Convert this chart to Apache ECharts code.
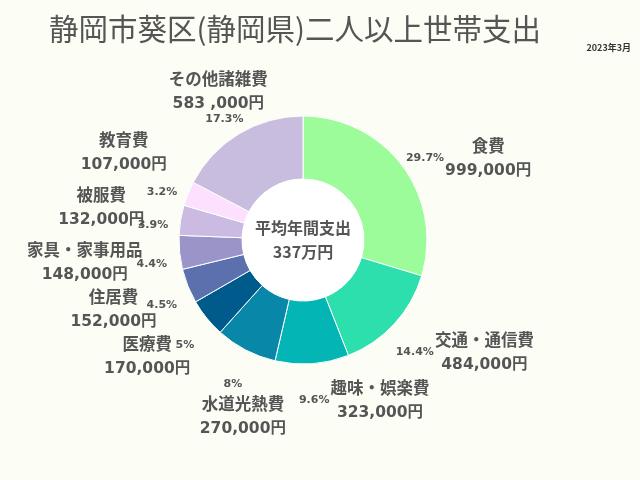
<!DOCTYPE html>
<html>
<head>
<meta charset="utf-8">
<script src="https://cdn.jsdelivr.net/npm/echarts@6/dist/echarts.min.js"></script>
<style>
html,body{margin:0;padding:0;background:#fcfdf5;}
#chart{width:640px;height:480px;}
</style>
</head>
<body>
<div id="chart"></div>
<script>
// ---- data ----
const chartTitle = '静岡市葵区(静岡県)二人以上世帯支出';
const periodLabel = '2023年3月';
const categories = ['食費','交通・通信費','趣味・娯楽費','水道光熱費','医療費','住居費','家具・家事用品','被服費','教育費','その他諸雑費'];
const values = [999000,484000,323000,270000,170000,152000,148000,132000,107000,583000];
const valueLabels = ['999,000円','484,000円','323,000円','270,000円','170,000円','152,000円','148,000円','132,000円','107,000円','583 ,000円'];
const centerTitle = '平均年間支出';
const centerValue = '337万円';
const colors = ['#9dfc9a','#2ddfad','#04b5b6','#0887a8','#005b8d','#5b70ad','#9a94c9','#cbbbe3','#fde0fd','#c9bddf'];

// ---- layout / style ----
const CX = 303, CY = 240, R0 = 61, R1 = 124;
const PCT_R = 152, PCT_DY = 9, PCT_H = 12;
const LEFT_R = 162, GAP_DOWN = 47, GAP_UP = 55;
const pctFont = 'bold 11px "DejaVu Sans"';
const textColor = '#555';

const total = values.reduce((a, b) => a + b, 0);
function pctText(v) {
  let s = (v / total * 100).toFixed(1);
  if (s.endsWith('.0')) s = s.slice(0, -2);
  return s + '%';
}
const ctx = document.createElement('canvas').getContext('2d');
ctx.font = pctFont;
let cum = 0;
const geo = values.map(v => {
  const a = (cum + v / 2) / total * Math.PI * 2;
  cum += v;
  const sx = Math.sin(a), cy = Math.cos(a);
  const t = pctText(v);
  return {
    sx: sx, cy: cy, text: t,
    px: CX + PCT_R * sx,
    py: CY - PCT_R * cy + PCT_DY,
    pw: ctx.measureText(t).width
  };
});

// left-side side-placed labels: spread outward from the most horizontal one
const leftY = {};
(function () {
  const idx = [];
  geo.forEach((g, i) => { if (g.sx < 0 && Math.abs(g.cy) <= 0.85) idx.push(i); });
  if (!idx.length) return;
  let k = 0;
  idx.forEach((i, j) => { if (Math.abs(geo[i].cy) < Math.abs(geo[idx[k]].cy)) k = j; });
  leftY[idx[k]] = geo[idx[k]].py - 2;
  for (let j = k - 1; j >= 0; j--) {       // lower labels (earlier in clockwise order)
    leftY[idx[j]] = Math.max(geo[idx[j]].py - 2, leftY[idx[j + 1]] + GAP_DOWN);
  }
  for (let j = k + 1; j < idx.length; j++) { // upper labels
    leftY[idx[j]] = Math.min(geo[idx[j]].py - 2, leftY[idx[j - 1]] - GAP_UP);
  }
})();

const pieData = categories.map((c, i) => ({ name: c, value: values[i] }));

const chart = echarts.init(document.getElementById('chart'));
chart.setOption({
  backgroundColor: '#fcfdf5',
  animation: false,
  title: [
    { text: chartTitle, left: 44, top: 9,
      textStyle: { fontFamily: '"Noto Sans CJK JP"', fontSize: 29.5, fontWeight: 'normal', color: textColor } },
    { text: periodLabel, right: 4, top: 38,
      textStyle: { fontFamily: '"Noto Sans CJK JP"', fontSize: 9, fontWeight: 'bold', color: '#333' } }
  ],
  color: colors,
  series: [
    {
      type: 'pie', name: 'main', center: [CX, CY], radius: [R0, R1],
      startAngle: 90, clockwise: true, avoidLabelOverlap: false, silent: true,
      itemStyle: { borderColor: '#ffffff', borderWidth: 1 },
      data: pieData,
      label: {
        show: true, position: 'outside',
        formatter: p => '{n|' + p.name + '}\n{v|' + valueLabels[p.dataIndex] + '}',
        rich: {
          n: { fontFamily: '"Noto Sans CJK JP"', fontSize: 16.5, fontWeight: 'bold', color: textColor, lineHeight: 25 },
          v: { fontFamily: '"DejaVu Sans","Noto Sans CJK JP"', fontSize: 15.5, fontWeight: 'bold', color: textColor, lineHeight: 25 }
        }
      },
      labelLine: { show: false },
      labelLayout: function (p) {
        const i = p.dataIndex, g = geo[i];
        const w = p.labelRect.width, h = p.labelRect.height;
        const pr = g.px + g.pw / 2;
        const pt = g.py - PCT_H / 2, pb = g.py + PCT_H / 2;
        let x, y;
        if (g.sx >= 0) { x = pr + 1 + w / 2; y = g.py; }
        else if (Math.abs(g.cy) > 0.85) {
          x = g.px + (g.cy < 0 ? 10 : -6);
          y = g.cy < 0 ? pb + 6 + h / 2 : pt - 1 - h / 2;
        }
        else {
          y = leftY[i];
          const dy = y - CY;
          const right = CX - Math.sqrt(Math.max(LEFT_R * LEFT_R - dy * dy, 0));
          x = right - w / 2;
        }
        return { x: x, y: y, align: 'center', verticalAlign: 'middle' };
      }
    },
    {
      type: 'pie', name: 'pct', center: [CX, CY], radius: [R0, R1],
      startAngle: 90, clockwise: true, avoidLabelOverlap: false, silent: true,
      itemStyle: { color: 'rgba(0,0,0,0)' },
      data: pieData,
      label: {
        show: true, position: 'outside',
        formatter: p => geo[p.dataIndex].text,
        fontFamily: '"DejaVu Sans"', fontSize: 11, fontWeight: 'bold', color: textColor
      },
      labelLine: { show: false },
      labelLayout: function (p) {
        const g = geo[p.dataIndex];
        return { x: g.px, y: g.py, align: 'center', verticalAlign: 'middle' };
      }
    },
    {
      type: 'pie', name: 'center', center: [CX, CY], radius: [0, R0],
      silent: true, itemStyle: { color: '#ffffff' },
      data: [{ name: centerTitle, value: 1 }],
      label: {
        show: true, position: 'center',
        formatter: centerTitle + '\n' + centerValue,
        fontFamily: '"Noto Sans CJK JP"', fontSize: 16, fontWeight: 'bold', color: textColor, lineHeight: 24
      },
      labelLine: { show: false }
    }
  ]
});
</script>
</body>
</html>
